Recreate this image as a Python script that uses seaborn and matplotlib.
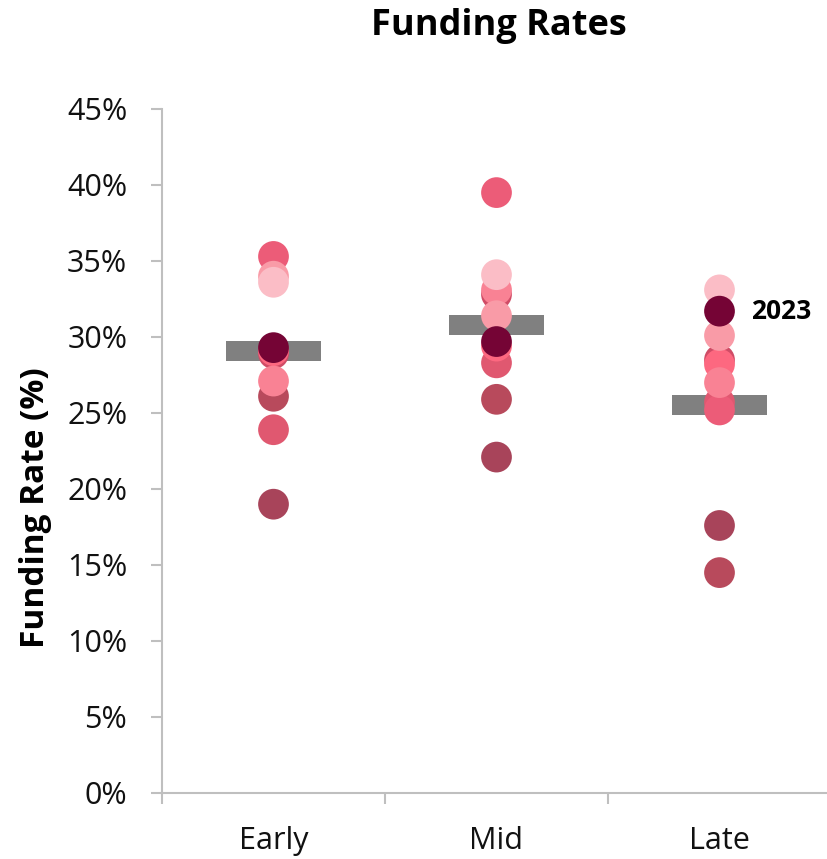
import matplotlib
matplotlib.use("Agg")
import matplotlib.pyplot as plt
import seaborn as sns
import pandas as pd

# stages on the x axis
stages = ["Early", "Mid", "Late"]
# years, listed in drawing order (last one is drawn on top)
years = ["2014", "2015", "2016", "2017", "2018", "2019", "2020", "2021", "2022", "2023"]
year_colors = ["#d04c66", "#b84a5c", "#e05870", "#a8445a", "#fd6880",
               "#ec5c78", "#f98294", "#f99ba7", "#fbbdc6", "#750435"]

# funding rate (%) per year, one list per stage, same order as years
early_rates = [28.9, 26.1, 23.9, 19.0, 29.1, 35.3, 27.1, 34.0, 33.6, 29.3]
mid_rates = [32.8, 25.9, 28.3, 22.1, 29.4, 39.5, 33.1, 31.4, 34.1, 29.7]
late_rates = [28.5, 14.5, 25.7, 17.6, 28.2, 25.2, 27.0, 30.1, 33.1, 31.7]

# grey bar per stage
stage_avg = [29.1, 30.8, 25.5]

rows = []
for stage, rates in zip(stages, [early_rates, mid_rates, late_rates]):
    for yr, r in zip(years, rates):
        rows.append({"stage": stage, "year": yr, "rate": r / 100})
df = pd.DataFrame(rows)
df["x"] = df["stage"].map({s: i for i, s in enumerate(stages)})

sns.set_theme(style="white")
plt.rcParams["font.family"] = ["Open Sans", "DejaVu Sans"]

fig = plt.figure(figsize=(8.28, 8.59), dpi=100)
ax = fig.add_axes([162 / 828, 1 - 793 / 859, (831 - 162) / 828, (793 - 109) / 859])

ax.hlines([v / 100 for v in stage_avg], [i - 0.213 for i in range(3)],
          [i + 0.213 for i in range(3)], colors="#808080", linewidth=14.4, zorder=1)

sns.scatterplot(data=df, x="x", y="rate", hue="year", palette=dict(zip(years, year_colors)),
                s=490, linewidth=0, alpha=1, legend=False, ax=ax, zorder=3)

# label the latest year in the last stage
last = df[(df["stage"] == "Late") & (df["year"] == "2023")].iloc[0]
ax.annotate("2023", (last["x"], last["rate"]), xytext=(32, 0), textcoords="offset pixels",
            ha="left", va="center", fontsize=19, fontweight="bold", color="black")

ax.set_xlim(-0.5, 2.5)
ax.set_ylim(0, 0.45)
ax.set_yticks([i * 0.05 for i in range(10)])
ax.set_yticklabels([f"{i * 5}%" for i in range(10)])
ax.set_xticks(range(3))
ax.set_xticklabels(stages)
ax.set_xticks([-0.5, 0.5, 1.5, 2.5], minor=True)
ax.tick_params(axis="x", which="major", length=0, pad=24, labelsize=22, labelcolor="#111111")
ax.tick_params(axis="x", which="minor", length=8, width=1.5, color="#bfbfbf", direction="out", bottom=True)
ax.tick_params(axis="y", length=8, width=1.5, color="#bfbfbf", direction="out", left=True,
               pad=17, labelsize=22, labelcolor="#111111")
ax.set_xlabel("")
ax.set_ylabel("")

for side in ["top", "right"]:
    ax.spines[side].set_visible(False)
for side in ["left", "bottom"]:
    ax.spines[side].set_color("#bfbfbf")
    ax.spines[side].set_linewidth(1.5)

fig.text(499 / 828, 1 - 26 / 859, "Funding Rates", ha="center", va="center",
         fontsize=26, fontweight="bold", color="black")
fig.text(36 / 828, 1 - 648 / 859, "Funding Rate (%)", rotation=90, ha="center", va="bottom",
         fontsize=24, fontweight="bold", color="black")

fig.savefig("out.png", dpi=100)
